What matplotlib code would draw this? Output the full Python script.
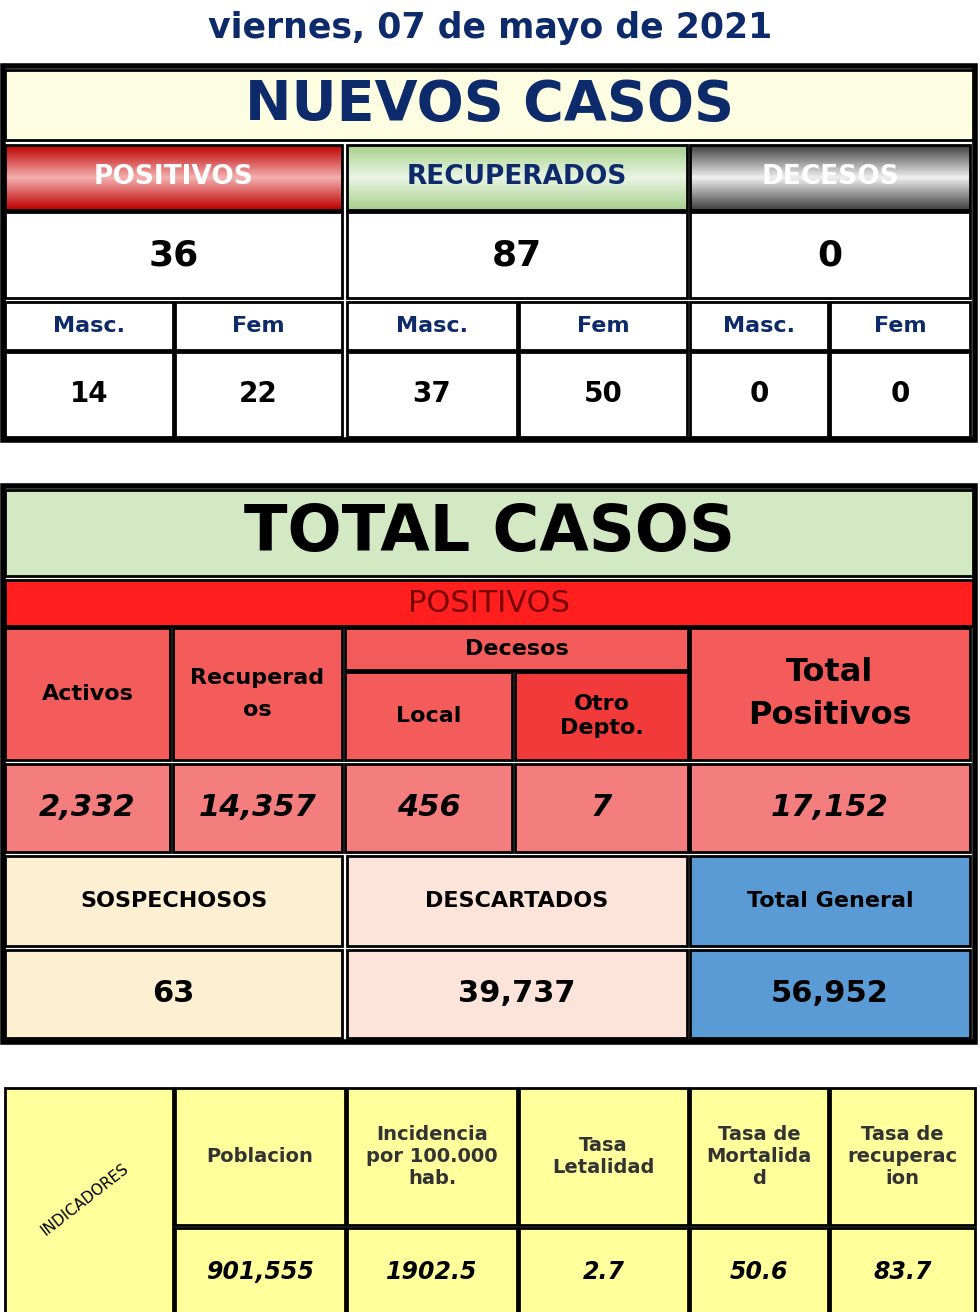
import matplotlib.pyplot as plt
import numpy as np
from matplotlib.patches import Rectangle
from matplotlib.colors import LinearSegmentedColormap

fecha = 'viernes, 07 de mayo de 2021'
grupos = ['POSITIVOS', 'RECUPERADOS', 'DECESOS']
nuevos = [36, 87, 0]
masc = [14, 37, 0]
fem = [22, 50, 0]
totales = ['2,332', '14,357', '456', '7', '17,152']
otros_lbl = ['SOSPECHOSOS', 'DESCARTADOS', 'Total General']
otros_val = ['63', '39,737', '56,952']
ind_lbl = ['Poblacion', 'Incidencia\npor 100.000\nhab.', 'Tasa\nLetalidad',
           'Tasa de\nMortalida\nd', 'Tasa de\nrecuperac\nion']
ind_val = ['901,555', '1902.5', '2.7', '50.6', '83.7']

NAVY = '#0d2a6b'
fig = plt.figure(figsize=(9.8, 13.12), dpi=100)
ax = fig.add_axes([0, 0, 1, 1])
ax.set_xlim(0, 980)
ax.set_ylim(1312, 0)
ax.axis('off')
FONT = 'DejaVu Sans'


def cell(x0, x1, y0, y1, fc='white', lw=2):
    ax.add_patch(Rectangle((x0, y0), x1 - x0, y1 - y0, facecolor=fc,
                           edgecolor='black', linewidth=lw))


def txt(x0, x1, y0, y1, s, size=16, color='black', style='normal', **kw):
    ax.text((x0 + x1) / 2, (y0 + y1) / 2, s, ha='center', va='center',
            fontsize=size, color=color, fontweight='bold', style=style,
            family=FONT, **kw)


def grad(x0, x1, y0, y1, c_edge, c_mid):
    cm = LinearSegmentedColormap.from_list('g', [c_edge, c_mid, c_edge])
    g = np.linspace(0, 1, 50).reshape(-1, 1)
    ax.imshow(g, cmap=cm, extent=(x0, x1, y1, y0), aspect='auto', zorder=1)
    ax.add_patch(Rectangle((x0, y0), x1 - x0, y1 - y0, fill=False,
                           edgecolor='black', linewidth=2, zorder=2))


ax.text(490, 28, fecha, ha='center', va='center', fontsize=25,
        fontweight='bold', color=NAVY, family=FONT)

# ---- NUEVOS CASOS ----
ax.add_patch(Rectangle((3, 66), 972, 374, fill=False, edgecolor='black', linewidth=4))
cell(5, 973, 70, 140, '#fdfde2')
txt(5, 973, 70, 140, 'NUEVOS CASOS', size=40, color=NAVY)
cols = [(5, 342), (347, 687), (690, 970)]
subs = [[(5, 173), (175, 342)], [(347, 517), (519, 687)], [(690, 828), (830, 970)]]
heads = [('#f4b0b0', '#c00000', 'white'), ('#eaf5e4', '#a9d18e', NAVY),
         ('#f0f0f0', '#404040', 'white')]
for i, (x0, x1) in enumerate(cols):
    e, m, tc = heads[i]
    grad(x0, x1, 145, 210, m, e)
    txt(x0, x1, 145, 210, grupos[i], size=19, color=tc)
    cell(x0, x1, 212, 298)
    txt(x0, x1, 212, 298, str(nuevos[i]), size=26)
    (a0, a1), (b0, b1) = subs[i]
    cell(a0, a1, 302, 350); txt(a0, a1, 302, 350, 'Masc.', size=16, color=NAVY)
    cell(b0, b1, 302, 350); txt(b0, b1, 302, 350, 'Fem', size=16, color=NAVY)
    cell(a0, a1, 352, 437); txt(a0, a1, 352, 437, str(masc[i]), size=20)
    cell(b0, b1, 352, 437); txt(b0, b1, 352, 437, str(fem[i]), size=20)

# ---- TOTAL CASOS ----
ax.add_patch(Rectangle((3, 486), 972, 556, fill=False, edgecolor='black', linewidth=4))
cell(5, 973, 490, 576, '#d2e9c4')
txt(5, 973, 490, 576, 'TOTAL CASOS', size=46)
cell(5, 973, 580, 626, '#ff1f1f')
ax.text(489, 603, 'POSITIVOS', ha='center', va='center', fontsize=22,
        color='#7a0000', family=FONT)
HR = '#f45c5c'
cell(5, 170, 628, 760, HR); txt(5, 170, 628, 760, 'Activos', size=16)
cell(173, 342, 628, 760, HR); txt(173, 342, 628, 760, 'Recuperad\nos', size=16, linespacing=1.7)
cell(345, 688, 628, 670, HR); txt(345, 688, 628, 670, 'Decesos', size=16)
cell(345, 512, 672, 760, HR); txt(345, 512, 672, 760, 'Local', size=16)
cell(515, 688, 672, 760, '#f33a3a'); txt(515, 688, 672, 760, 'Otro\nDepto.', size=16, linespacing=1.3)
cell(690, 970, 628, 760, HR); txt(690, 970, 628, 760, 'Total\nPositivos', size=23, linespacing=1.5)
tcols = [(5, 170), (173, 342), (345, 512), (515, 688), (690, 970)]
for (x0, x1), v in zip(tcols, totales):
    cell(x0, x1, 764, 852, '#f47e7e')
    txt(x0, x1, 764, 852, v, size=22, style='italic')
ocol = ['#fdf0d2', '#fce4da', '#5b9bd5']
for (x0, x1), lbl, v, c in zip(cols, otros_lbl, otros_val, ocol):
    cell(x0, x1, 856, 946, c); txt(x0, x1, 856, 946, lbl, size=16)
    cell(x0, x1, 950, 1038, c); txt(x0, x1, 950, 1038, v, size=22)

# ---- INDICADORES ----
YEL = '#ffff9c'
icols = [(175, 345), (347, 517), (519, 688), (690, 828), (830, 975)]
cell(5, 173, 1088, 1320, YEL)
ax.text(85, 1200, 'INDICADORES', ha='center', va='center', fontsize=11,
        rotation=38, family=FONT, color='black')
for (x0, x1), lbl, v in zip(icols, ind_lbl, ind_val):
    cell(x0, x1, 1088, 1225, YEL)
    txt(x0, x1, 1088, 1225, lbl, size=14, color='#333333', linespacing=1.2)
    cell(x0, x1, 1228, 1320, YEL)
    txt(x0, x1, 1228, 1316, v, size=17, style='italic')

fig.savefig('out.png', dpi=100)
